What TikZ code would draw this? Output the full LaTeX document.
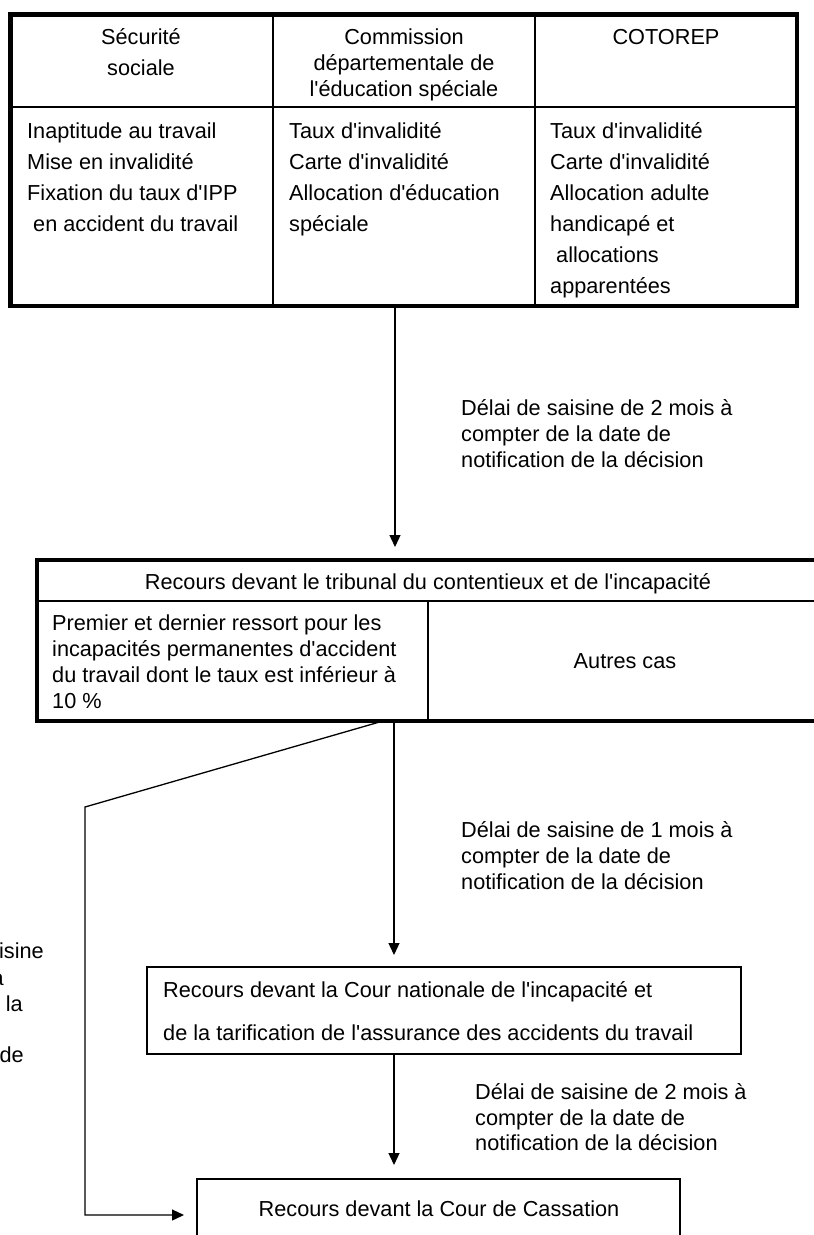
\documentclass[tikz,border=0pt]{standalone}
\usepackage{fontspec}
\setmainfont{Liberation Sans}[Ligatures=TeXOff]
\usetikzlibrary{arrows.meta}
\begin{document}
\begin{tikzpicture}[x=1pt,y=-1pt,
  font=\fontsize{21.7}{26}\selectfont,
  txt/.style={inner sep=0pt, anchor=base west},
  rtxt/.style={inner sep=0pt, anchor=base east},
  ctxt/.style={inner sep=0pt, anchor=base},
  frame/.style={draw, line width=4.5pt, inner sep=0pt, outer sep=0pt, anchor=north west},
  plain/.style={draw, line width=1.3pt, inner sep=0pt, outer sep=0pt, anchor=north west},
  rule/.style={line width=1.3pt},
  link/.style={line width=1.3pt, -{Triangle[length=12pt,width=11pt]}},
]
\useasboundingbox (0,0) rectangle (814,1235);
\fill[white] (0,0) rectangle (814,1235);
\clip (0,0) rectangle (814,1235);

% ---- bodies that can be seized
\node[frame, minimum width=786.5pt, minimum height=291.5pt] (orgs) at (10.5,14.5) {};
\draw[rule] (orgs.west |- 0,107) -- (orgs.east |- 0,107);
\draw[rule] (273,0 |- orgs.north) -- (273,0 |- orgs.south);
\draw[rule] (535,0 |- orgs.north) -- (535,0 |- orgs.south);

\node[ctxt] (h1a) at (141,44) {Sécurité};
\node[ctxt] (h1b) at (141,75) {sociale};
\node[ctxt] (h2a) at (404,44) {Commission};
\node[ctxt] (h2b) at (404,70) {départementale de};
\node[ctxt] (h2c) at (404,96) {l'éducation spéciale};
\node[ctxt] (h3a) at (666,44) {COTOREP};

\foreach \t [count=\i] in {Inaptitude au travail, Mise en invalidité,
    Fixation du taux d'IPP, \ en accident du travail}
  \node[txt] (ss\i) at (27,{138+31*(\i-1)}) {\t};
\foreach \t [count=\i] in {Taux d'invalidité, Carte d'invalidité,
    Allocation d'éducation, spéciale}
  \node[txt] (cd\i) at (289,{138+31*(\i-1)}) {\t};
\foreach \t [count=\i] in {Taux d'invalidité, Carte d'invalidité,
    Allocation adulte, handicapé et, \ allocations, apparentées}
  \node[txt] (ct\i) at (550,{138+31*(\i-1)}) {\t};

% ---- first appeal
\node[frame, line width=4pt, minimum width=900pt, minimum height=161.5pt] (trib) at (36.7,559.5) {};
\draw[rule] (trib.west |- 0,601) -- (trib.east |- 0,601);
\draw[rule] (428,0 |- 0,601) -- (428,0 |- trib.south);
\node[ctxt] (tribt) at (428,589) {Recours devant le tribunal du contentieux et de l'incapacité};
\foreach \t [count=\i] in {Premier et dernier ressort pour les,
    incapacités permanentes d'accident,
    du travail dont le taux est inférieur à, 10 \%}
  \node[txt] (pd\i) at (52,{630+26*(\i-1)}) {\t};
\node[ctxt] (autres) at (625,668) {Autres cas};

% ---- national court
\node[plain, minimum width=594pt, minimum height=87pt] (cnitaat) at (147,967) {};
\node[txt] (cn1) at (163,997) {Recours devant la Cour nationale de l'incapacité et};
\node[txt] (cn2) at (163,1040) {de la tarification de l'assurance des accidents du travail};

% ---- cassation
\node[plain, minimum width=483pt, minimum height=100pt] (cass) at (197,1179) {};
\node[ctxt] (cassT) at (439,1216) {Recours devant la Cour de Cassation};

% ---- connectors
\coordinate (x1) at (395,0);
\coordinate (x2) at (394,0);
\coordinate (x3) at (383,0);
\coordinate (k1) at (85,807);
\coordinate (k2) at (85,1215);
\draw[link, shorten <=2.25pt, shorten >=12.5pt] (x1 |- orgs.south) -- (x1 |- trib.north);
\draw[link, shorten <=2pt, shorten >=12pt] (x2 |- trib.south) -- (x2 |- cnitaat.north);
\draw[link, shorten >=14pt] (x2 |- cnitaat.south) -- (x2 |- cass.north);
\draw[link, shorten >=13pt] (x3 |- trib.south) -- (k1) -- (k2) -- (k2 -| cass.west);

% ---- time limits
\node[txt] (d1a) at (461,415) {Délai de saisine de 2 mois à};
\node[txt] (d1b) at (461,441) {compter de la date de};
\node[txt] (d1c) at (461,467) {notification de la décision};
\node[txt] (d2a) at (461,837) {Délai de saisine de 1 mois à};
\node[txt] (d2b) at (461,863) {compter de la date de};
\node[txt] (d2c) at (461,889) {notification de la décision};
\node[txt] (d3a) at (475,1099) {Délai de saisine de 2 mois à};
\node[txt] (d3b) at (475,1125) {compter de la date de};
\node[txt] (d3c) at (475,1150) {notification de la décision};

% time limit for the direct route, running off the left edge
\node[rtxt] (g1) at (44,958) {Délai de saisine};
\node[rtxt] (g2) at (4,985) {de 2 mois à};
\node[rtxt] (g3) at (23,1011) {compter de la};
\node[rtxt] (g5) at (24,1062) {notification de};
\end{tikzpicture}
\end{document}
